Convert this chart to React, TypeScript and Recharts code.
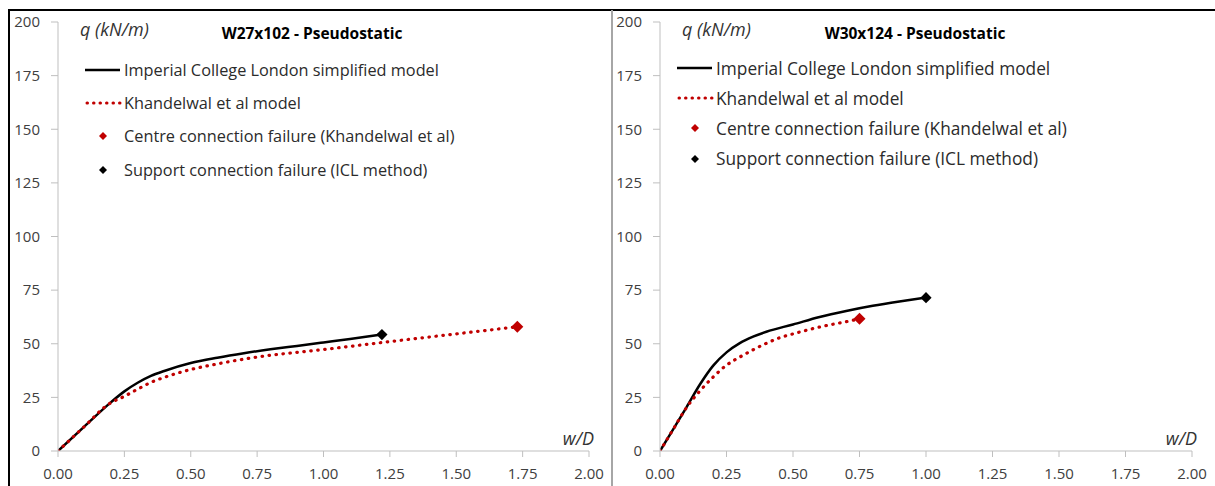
import React from 'react';
import { ComposedChart, Line, Scatter, XAxis, YAxis, Legend, Label } from 'recharts';

const xTicks = [0, 0.25, 0.5, 0.75, 1, 1.25, 1.5, 1.75, 2];
const yTicks = [0, 25, 50, 75, 100, 125, 150, 175, 200];

const legendNames = [
  'Imperial College London simplified model',
  'Khandelwal et al model',
  'Centre connection failure (Khandelwal et al)',
  'Support connection failure (ICL method)',
];

// W27x102
const w27IclW = [0, 0.1, 0.2, 0.25, 0.3, 0.35, 0.4, 0.5, 0.6, 0.7, 0.8, 0.9, 1.0, 1.1, 1.22];
const w27IclQ = [0, 11.5, 22.8, 27.8, 31.8, 35.0, 37.3, 41.0, 43.5, 45.6, 47.4, 49.0, 50.6, 52.2, 54.3];
const w27KhaW = [0, 0.1, 0.19, 0.25, 0.3, 0.35, 0.4, 0.5, 0.6, 0.75, 1.0, 1.25, 1.5, 1.73];
const w27KhaQ = [0, 11.5, 21.8, 25.5, 28.8, 32.0, 34.3, 38.0, 40.6, 43.8, 47.3, 51.0, 54.6, 57.9];
const w27Centre = [1.73, 57.9];
const w27Support = [1.22, 54.3];

// W30x124
const w30IclW = [0, 0.05, 0.1, 0.15, 0.2, 0.25, 0.3, 0.35, 0.4, 0.5, 0.6, 0.7, 0.8, 0.9, 1.0];
const w30IclQ = [0, 10.2, 20.5, 31, 39.8, 46, 50.3, 53.3, 55.6, 59, 62.5, 65.3, 67.7, 69.7, 71.5];
const w30KhaW = [0, 0.05, 0.1, 0.15, 0.2, 0.25, 0.3, 0.35, 0.4, 0.45, 0.5, 0.6, 0.7, 0.75];
const w30KhaQ = [0, 10.2, 20.3, 28, 34.5, 40, 43.8, 47.2, 50.2, 52.8, 54.6, 57.8, 60.3, 61.6];
const w30Centre = [0.75, 61.6];
const w30Support = [1.0, 71.5];

const toPoints = (w: number[], q: number[]) => w.map((x, i) => ({ x, q: q[i] }));

const FONT = '"Open Sans", sans-serif';
const RED = '#c00000';

const diamond = (color: string, r: number) => (props: any) => {
  const { cx, cy } = props;
  return (
    <polygon
      points={`${cx},${cy - r} ${cx + r},${cy} ${cx},${cy + r} ${cx - r},${cy}`}
      fill={color}
    />
  );
};

const LegendIcon = ({ i }: { i: number }) => (
  <svg width={39} height={12} style={{ flexShrink: 0 }}>
    {i === 0 && <line x1={0} y1={6} x2={35} y2={6} stroke="#000" strokeWidth={2.5} />}
    {i === 1 && (
      <line x1={2} y1={6} x2={35} y2={6} stroke={RED} strokeWidth={3}
        strokeDasharray="0.5 6" strokeLinecap="round" />
    )}
    {i === 2 && <polygon points="18,2 22,6 18,10 14,6" fill={RED} />}
    {i === 3 && <polygon points="18,2 22,6 18,10 14,6" fill="#000" />}
  </svg>
);

interface PanelProps {
  left: number;
  title: string;
  icl: { x: number; q: number }[];
  kha: { x: number; q: number }[];
  centre: number[];
  support: number[];
  yAxisWidth: number;
  legendLeft: number;
  legendRowH: number;
  legendFont: number;
  titleX: number;
}

const Panel: React.FC<PanelProps> = (p) => (
  <div style={{ position: 'absolute', left: p.left, top: 10, width: 603, height: 476 }}>
    <div
      style={{
        position: 'absolute', left: p.titleX, top: 12, transform: 'translateX(-50%)',
        fontFamily: FONT, fontWeight: 700, fontSize: 15.5, color: '#000', whiteSpace: 'nowrap',
        zIndex: 2,
      }}
    >
      {p.title}
    </div>
    <ComposedChart width={603} height={476} margin={{ top: 12, right: 23, left: 0, bottom: 0 }}>
      <XAxis
        type="number"
        dataKey="x"
        domain={[0, 2]}
        ticks={xTicks}
        tickFormatter={(v: number) => v.toFixed(2)}
        stroke="#bfbfbf"
        tick={{ fill: '#404040', fontSize: 15, fontFamily: FONT }}
        tickSize={6}
        tickMargin={11}
        height={35}
        allowDataOverflow
      >
        <Label
          content={({ viewBox }: any) => (
            <text x={viewBox.x + viewBox.width + 5} y={viewBox.y - 6} textAnchor="end"
              fontFamily={FONT} fontStyle="italic" fontSize={18} fill="#333">
              w/D
            </text>
          )}
        />
      </XAxis>
      <YAxis
        type="number"
        domain={[0, 200]}
        ticks={yTicks}
        stroke="#bfbfbf"
        tick={{ fill: '#404040', fontSize: 15, fontFamily: FONT }}
        tickSize={7}
        tickMargin={11}
        width={p.yAxisWidth}
        allowDataOverflow
      >
        <Label
          content={({ viewBox }: any) => (
            <text x={viewBox.x + viewBox.width + 22} y={viewBox.y + 14}
              fontFamily={FONT} fontStyle="italic" fontSize={18} fill="#333">
              q (kN/m)
            </text>
          )}
        />
      </YAxis>
      <Legend
        layout="horizontal"
        verticalAlign="middle"
        align="center"
        wrapperStyle={{ left: p.legendLeft, top: 43, width: 'auto' }}
        content={() => (
          <div style={{ fontFamily: FONT, fontSize: p.legendFont, color: '#2b2b2b' }}>
            {legendNames.map((name, i) => (
              <div key={name} style={{ display: 'flex', alignItems: 'center', height: p.legendRowH, whiteSpace: 'nowrap' }}>
                <LegendIcon i={i} />
                <span>{name}</span>
              </div>
            ))}
          </div>
        )}
      />
      <Line data={p.icl} dataKey="q" type="monotone" stroke="#000" strokeWidth={2.5}
        dot={false} activeDot={false} isAnimationActive={false} />
      <Line data={p.kha} dataKey="q" type="monotone" stroke={RED} strokeWidth={3.2}
        strokeDasharray="0.5 6.5" strokeLinecap="round" dot={false} activeDot={false}
        isAnimationActive={false} />
      <Scatter data={[{ x: p.centre[0], q: p.centre[1] }]} dataKey="q"
        shape={diamond(RED, 6)} isAnimationActive={false} />
      <Scatter data={[{ x: p.support[0], q: p.support[1] }]} dataKey="q"
        shape={diamond('#000', 5.6)} isAnimationActive={false} />
    </ComposedChart>
  </div>
);

export default function App() {
  return (
    <div style={{ position: 'absolute', left: 0, top: 0, width: 1215, height: 486, background: '#fff', overflow: 'hidden' }}>
      <div style={{ position: 'absolute', left: 8, top: 9, width: 1207, height: 2, background: '#000' }} />
      <div style={{ position: 'absolute', left: 8, top: 9, width: 2, height: 477, background: '#000' }} />
      <div style={{ position: 'absolute', left: 611, top: 10, width: 2, height: 476, background: '#a6a6a6' }} />
      <Panel
        left={9}
        title="W27x102 - Pseudostatic"
        icl={toPoints(w27IclW, w27IclQ)}
        kha={toPoints(w27KhaW, w27KhaQ)}
        centre={w27Centre}
        support={w27Support}
        yAxisWidth={49}
        legendLeft={76}
        legendRowH={33.3}
        legendFont={16.3}
        titleX={303}
      />
      <Panel
        left={612}
        title="W30x124 - Pseudostatic"
        icl={toPoints(w30IclW, w30IclQ)}
        kha={toPoints(w30KhaW, w30KhaQ)}
        centre={w30Centre}
        support={w30Support}
        yAxisWidth={48}
        legendLeft={65}
        legendRowH={30.2}
        legendFont={17.3}
        titleX={303}
      />
    </div>
  );
}
